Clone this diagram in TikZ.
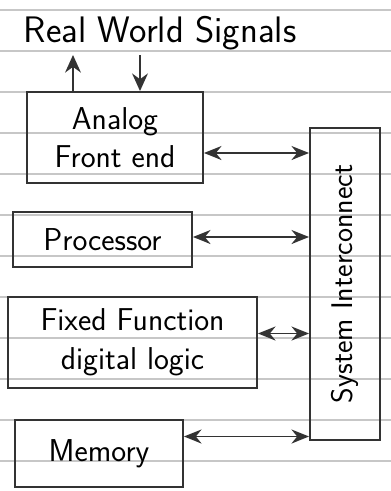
\documentclass[tikz,border=0pt]{standalone}
\usetikzlibrary{arrows.meta}
\begin{document}
\begin{tikzpicture}[x=0.02cm,y=-0.02cm,
  ink/.style={draw=black!80,line width=1.1pt},
  blk/.style={ink,rectangle,inner sep=0pt,align=center,font=\sffamily\fontsize{18}{22}\selectfont},
  link/.style={ink,{Stealth[length=10pt,width=8pt]}-{Stealth[length=10pt,width=8pt]}},
  sig/.style={ink,-{Stealth[length=10pt,width=9pt]}},
  rule/.style={draw=black!22,line width=0.7pt}]
\useasboundingbox (0,0) rectangle (391,491);
\foreach \yy in {10,51,92,133,174,215,256,297,338,379,420,461}
  \draw[rule] (0,\yy) -- (391,\yy);
\node[font=\sffamily\fontsize{21}{25}\selectfont] (rws) at (160,33) {Real World Signals};
\node[blk,minimum width=176*0.02cm,minimum height=91*0.02cm] (afe) at (115,137.5) {Analog\\Front end};
\node[blk,minimum width=179*0.02cm,minimum height=55*0.02cm] (proc) at (102.5,239.5) {Processor};
\node[blk,minimum width=249*0.02cm,minimum height=91*0.02cm] (ffl) at (132.5,342.5) {Fixed Function\\digital logic};
\node[blk,minimum width=168*0.02cm,minimum height=67*0.02cm] (mem) at (99,453.5) {Memory};
\node[blk,minimum width=70*0.02cm,minimum height=312*0.02cm] (sys) at (345,284) {};
\node[rotate=90,font=\sffamily\fontsize{17}{21}\selectfont] (syst) at (sys.center) {System Interconnect};
\coordinate (u1) at (73,55);
\coordinate (d1) at (140,55);
\draw[sig] (u1 |- afe.north) -- (u1);
\draw[sig] (d1) -- (d1 |- afe.north);
\draw[link] ([yshift=-15.5*0.02cm]afe.east) -- ([yshift=-15.5*0.02cm]afe.east -| sys.west);
\draw[link] ([yshift=2.5*0.02cm]proc.east) -- ([yshift=2.5*0.02cm]proc.east -| sys.west);
\draw[link] ([yshift=9*0.02cm]ffl.east) -- ([yshift=9*0.02cm]ffl.east -| sys.west);
\draw[link] ([yshift=17*0.02cm]mem.east) -- ([yshift=17*0.02cm]mem.east -| sys.west);
\end{tikzpicture}
\end{document}
